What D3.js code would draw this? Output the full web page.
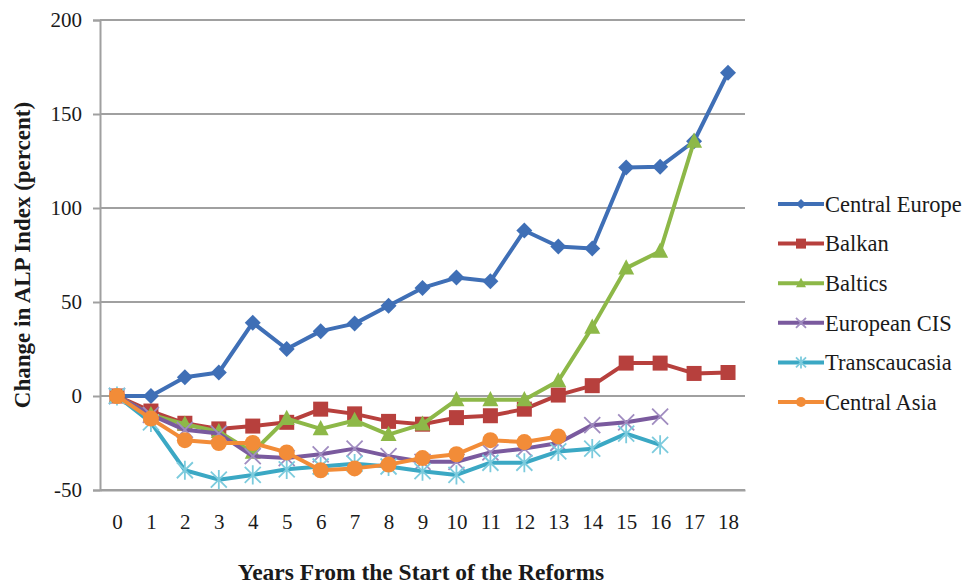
<!DOCTYPE html>
<html>
<head>
<meta charset="utf-8">
<script src="https://cdn.jsdelivr.net/npm/d3@7"></script>
<style>
html,body{margin:0;padding:0;background:#fff;}
svg{display:block;}
svg text{font-family:'Liberation Serif','Times New Roman',serif;}
</style>
</head>
<body>
<svg id="chart" width="968" height="586"></svg>
<script>
const years = [0,1,2,3,4,5,6,7,8,9,10,11,12,13,14,15,16,17,18];
const yTicks = [-50, 0, 50, 100, 150, 200];
const seriesNames = ["Central Europe","Balkan","Baltics","European CIS","Transcaucasia","Central Asia"];
const centralEurope = [0, 0, 10, 12.5, 39, 25, 34.5, 38.5, 48, 57.5, 63, 61, 88, 79.5, 78.5, 121.5, 122, 135.5, 172];
const balkan = [0, -8, -14.5, -17.5, -16, -14, -7, -9.5, -13.5, -15, -11.5, -10.5, -7, 0.5, 5.5, 17.5, 17.5, 12, 12.5];
const baltics = [0, -10, -15, -19, -30, -12, -17.5, -13, -20.5, -15, -2, -2, -2, 8, 36.5, 68, 77, 135.5];
const europeanCIS = [0, -10, -18, -20, -32, -33, -31, -28, -32, -35, -35, -30, -28, -25, -15.5, -14, -11];
const transcaucasia = [0, -14, -39.5, -44.5, -42, -39, -37.5, -36, -37.5, -40, -42, -35.5, -35.5, -29.5, -28, -20, -26];
const centralAsia = [0, -12, -23.5, -25, -25, -30, -39.5, -38.5, -36.5, -33, -31, -23.5, -24.5, -21.5];

const colors = ["#3F6FB6","#B7403D","#8DB848","#7A5A9E","#3BA8C4","#F28C38"];
const markerColors = ["#3F6FB6","#B7403D","#8DB848","#A08CC0","#7CCBDD","#F28C38"];
const markers = ["diamond","square","triangle","x","asterisk","circle"];
const seriesValues = [centralEurope, balkan, baltics, europeanCIS, transcaucasia, centralAsia];

const FONT = "'Liberation Serif','Times New Roman',serif";
const svg = d3.select("#chart");
const plot = {left: 100, right: 745, top: 20, bottom: 490};

const x = d3.scalePoint().domain(years).range([plot.left, plot.right]).padding(0.5);
const y = d3.scaleLinear().domain([-50, 200]).range([plot.bottom, plot.top]);

// gridlines
svg.append("g").selectAll("line").data(yTicks).join("line")
  .attr("x1", plot.left).attr("x2", plot.right)
  .attr("y1", d => y(d)).attr("y2", d => y(d))
  .attr("stroke", "#a0a0a0").attr("stroke-width", 2);

// y axis
const yAxis = svg.append("g").attr("transform", `translate(${plot.left},0)`)
  .call(d3.axisLeft(y).tickValues(yTicks).tickSize(7).tickPadding(11).tickFormat(d => String(d)));
yAxis.attr("font-family", null);
yAxis.select(".domain").attr("stroke", "#a0a0a0").attr("stroke-width", 2);
yAxis.selectAll(".tick line").attr("stroke", "#a0a0a0").attr("stroke-width", 2);
yAxis.selectAll("text").style("font-family", FONT)
  .attr("font-size", 21).attr("fill", "#1a1a1a");

// x axis
const xAxis = svg.append("g").attr("transform", `translate(0,${plot.bottom})`)
  .call(d3.axisBottom(x).tickSize(0).tickPadding(24));
xAxis.attr("font-family", null);
xAxis.select(".domain").attr("stroke", "#a0a0a0").attr("stroke-width", 2);
xAxis.selectAll("text").style("font-family", FONT)
  .attr("font-size", 21).attr("fill", "#1a1a1a");

// axis titles
svg.append("text")
  .attr("transform", `translate(30,255) rotate(-90)`)
  .attr("text-anchor", "middle")
  .style("font-family", FONT)
  .attr("font-weight", "bold").attr("font-size", 23).attr("fill", "#1a1a1a")
  .text("Change in ALP Index (percent)");
svg.append("text")
  .attr("x", 421).attr("y", 580)
  .attr("text-anchor", "middle")
  .style("font-family", FONT)
  .attr("font-weight", "bold").attr("font-size", 23.5).attr("fill", "#1a1a1a")
  .text("Years From the Start of the Reforms");

function drawMarker(g, type, color, s) {
  if (type === "diamond") {
    g.append("path").attr("d", `M0,${-s}L${s},0L0,${s}L${-s},0Z`).attr("fill", color);
  } else if (type === "square") {
    g.append("rect").attr("x", -s).attr("y", -s).attr("width", 2*s).attr("height", 2*s).attr("fill", color);
  } else if (type === "triangle") {
    g.append("path").attr("d", `M0,${-s*1.1}L${s},${s*0.8}L${-s},${s*0.8}Z`).attr("fill", color);
  } else if (type === "x") {
    g.append("path").attr("d", `M${-s},${-s}L${s},${s}M${-s},${s}L${s},${-s}`).attr("stroke", color).attr("stroke-width", 1.8).attr("fill", "none");
  } else if (type === "asterisk") {
    g.append("path").attr("d", `M${-s},${-s}L${s},${s}M${-s},${s}L${s},${-s}M0,${-s*1.2}L0,${s*1.2}`).attr("stroke", color).attr("stroke-width", 1.8).attr("fill", "none");
  } else if (type === "circle") {
    g.append("circle").attr("r", s).attr("fill", color);
  }
}
const markerSize = {diamond: 8, square: 7.5, triangle: 8, x: 8, asterisk: 8, circle: 8};

const line = d3.line().x((d, i) => x(years[i])).y(d => y(d));

seriesValues.forEach((vals, si) => {
  const g = svg.append("g");
  g.append("path").datum(vals).attr("d", line)
    .attr("fill", "none").attr("stroke", colors[si]).attr("stroke-width", 4)
    .attr("stroke-linejoin", "round");
  vals.forEach((v, i) => {
    const mg = g.append("g").attr("transform", `translate(${x(years[i])},${y(v)})`);
    drawMarker(mg, markers[si], markerColors[si], markerSize[markers[si]]);
  });
});

// legend
const legend = svg.append("g");
seriesNames.forEach((name, i) => {
  const ly = 204 + i * 39.6;
  const lg = legend.append("g").attr("transform", `translate(778,${ly})`);
  lg.append("line").attr("x1", 0).attr("x2", 46).attr("y1", 0).attr("y2", 0)
    .attr("stroke", colors[i]).attr("stroke-width", 4);
  const mg = lg.append("g").attr("transform", "translate(23,0)");
  drawMarker(mg, markers[i], markerColors[i], 5);
  lg.append("text").attr("x", 47).attr("y", 0).attr("dy", "0.35em")
    .style("font-family", FONT)
    .attr("font-size", 22.5).attr("fill", "#1a1a1a").text(name);
});
</script>
</body>
</html>
